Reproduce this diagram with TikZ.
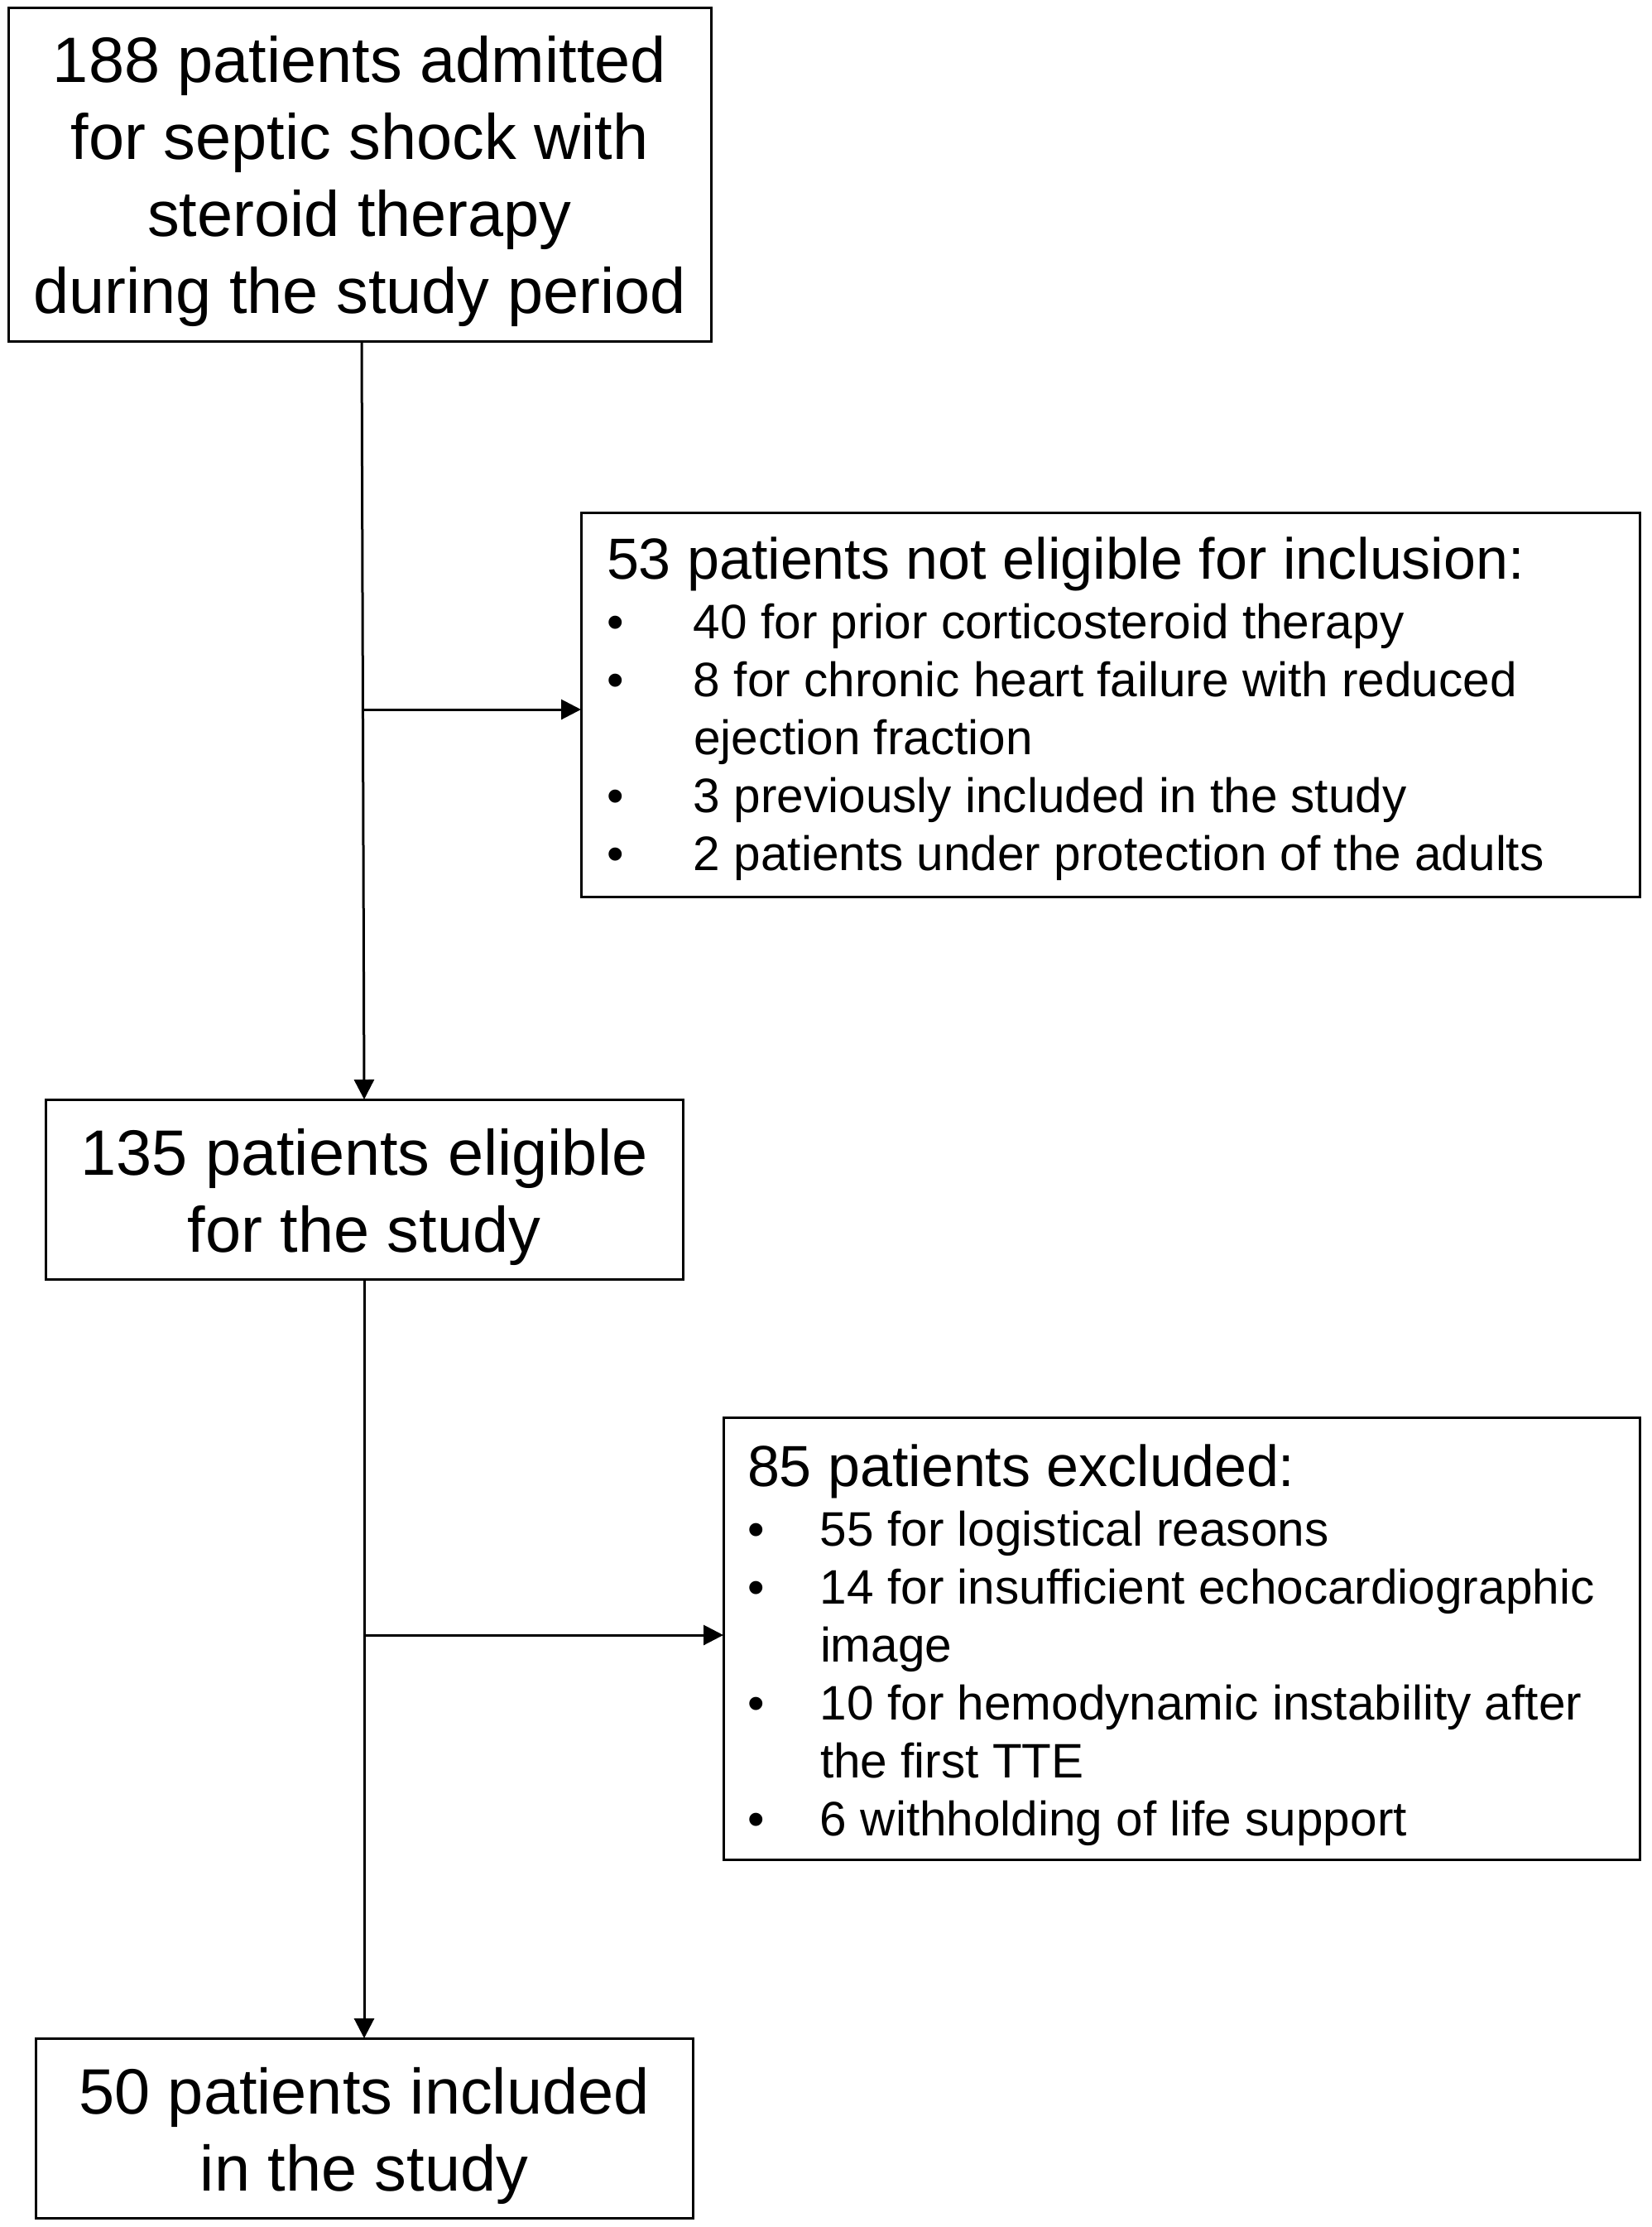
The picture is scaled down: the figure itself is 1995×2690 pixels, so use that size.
\documentclass[tikz,border=0pt]{standalone}
\usepackage{fontspec}
\setmainfont{Liberation Sans}
\usetikzlibrary{arrows.meta}
\tikzset{
  box/.style={draw=black, line width=3pt, rectangle, inner sep=0pt, outer sep=0pt, fill=white},
  bigtext/.style={inner sep=0pt, outer sep=0pt, align=center, font=\fontsize{77.5}{93}\selectfont},
  headtext/.style={inner sep=0pt, outer sep=0pt, font=\fontsize{70}{84}\selectfont},
  itemtext/.style={inner sep=0pt, outer sep=0pt, align=left, font=\fontsize{58.5}{70}\selectfont},
  arr/.style={draw=black, line width=3pt, -{Triangle[length=24pt,width=24pt]}}
}
\begin{document}
\begin{tikzpicture}[x=1pt, y=-1pt]
\useasboundingbox (0,0) rectangle (1995,2690);
\fill[white] (0,0) rectangle (1995,2690);

% boxes
\node[box, minimum width=849pt, minimum height=403pt] (b1) at (434.5,210.5) {};
\node[box, minimum width=1279pt, minimum height=464pt] (b2) at (1341.5,851) {};
\node[box, minimum width=770pt, minimum height=217pt] (b3) at (440,1436.5) {};
\node[box, minimum width=1107pt, minimum height=534pt] (b4) at (1427.5,1979) {};
\node[box, minimum width=794pt, minimum height=217pt] (b5) at (440,2570.5) {};

% texts
\node[bigtext, anchor=north] (t1) at (434.5,33.9) {\strut 188 patients admitted\\for septic shock with\\steroid therapy\\during the study period};

\node[headtext, anchor=base west] (h2) at (733,699) {53 patients not eligible for inclusion:};
\node[itemtext, anchor=north west] (i2) at (733,722) {\strut\makebox[105pt][l]{•}40 for prior corticosteroid therapy\\
\makebox[105pt][l]{•}8 for chronic heart failure with reduced\\
\hspace*{105pt}ejection fraction\\
\makebox[105pt][l]{•}3 previously included in the study\\
\makebox[105pt][l]{•}2 patients under protection of the adults};

\node[bigtext, anchor=north] (t3) at (440,1353.9) {\strut 135 patients eligible\\for the study};

\node[headtext, anchor=base west] (h4) at (903,1795) {85 patients excluded:};
\node[itemtext, anchor=north west] (i4) at (903,1818) {\strut\makebox[88pt][l]{•}55 for logistical reasons\\
\makebox[88pt][l]{•}14 for insufficient echocardiographic\\
\hspace*{88pt}image\\
\makebox[88pt][l]{•}10 for hemodynamic instability after\\
\hspace*{88pt}the first TTE\\
\makebox[88pt][l]{•}6 withholding of life support};

\node[bigtext, anchor=north] (t5) at (440,2487.9) {\strut 50 patients included\\in the study};

% connectors
\coordinate (j1) at (438.5,857);
\coordinate (j2) at (440,1975);
\draw[arr] ([xshift=2.5pt]b1.south) -- (b3.north);
\draw[arr] (j1) -- (j1 -| b2.west);
\draw[arr] (b3.south) -- (b5.north);
\draw[arr] (j2) -- (j2 -| b4.west);
\end{tikzpicture}
\end{document}
